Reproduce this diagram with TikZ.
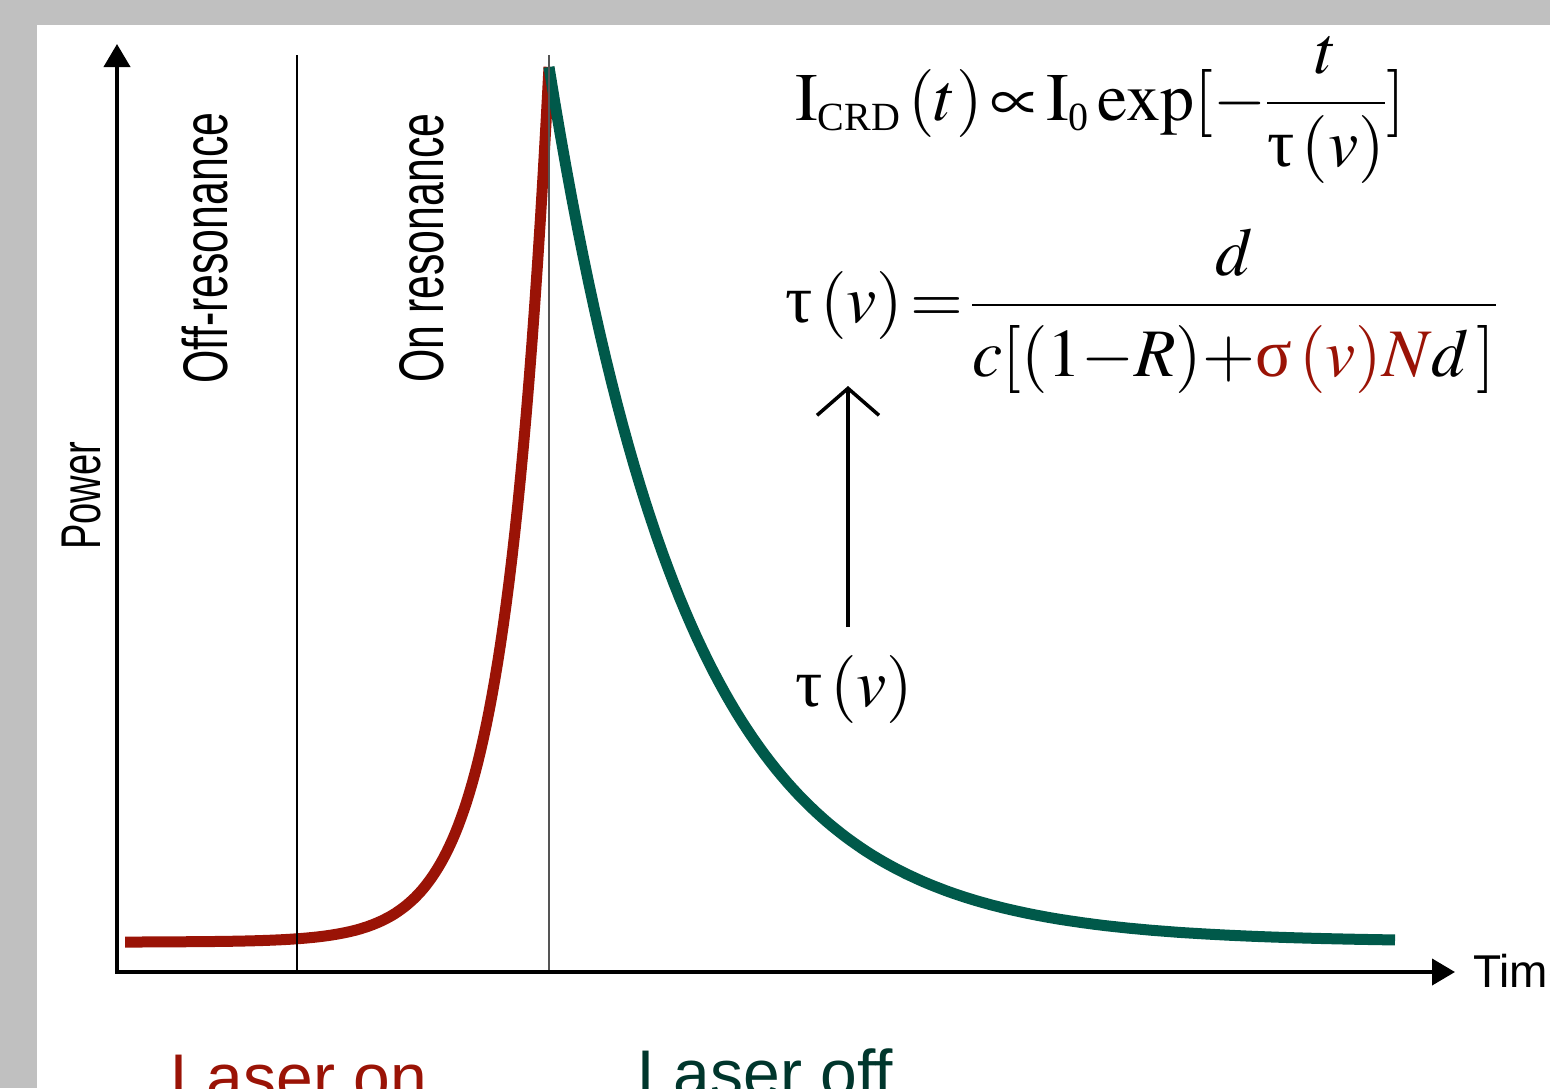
\documentclass[tikz,border=0pt]{standalone}
\usepackage{amsmath}
\usepackage{mathptmx}
\usepackage[no-math]{fontspec}
\setmainfont{Liberation Serif}
\newfontfamily\labelfont{Liberation Sans}
\newfontfamily\narrowfont[FakeStretch=0.68]{Liberation Sans}
\newfontfamily\greekfont{Liberation Serif}
\usetikzlibrary{arrows.meta}
\definecolor{frame-grey}{HTML}{C0C0C0}
\definecolor{laser-red}{HTML}{9A1306}
\definecolor{decay-green}{HTML}{00594A}
\definecolor{off-dark}{HTML}{00362C}
\definecolor{peak-grey}{HTML}{555555}
\newcommand{\gtau}{\mbox{\greekfont τ}}
\newcommand{\gsigma}{\mbox{\greekfont σ}}
\newcommand{\subtxt}[1]{\mbox{\fontsize{40}{40}\selectfont #1}}

\begin{document}
\begin{tikzpicture}[x=1pt, y=-1pt, every node/.style={inner sep=0pt}]
    \useasboundingbox (0,0) rectangle (1550,1088);
    \fill[frame-grey] (0,0) rectangle (1550,1088);
    \fill[white] (37,25) rectangle (1550,1088);
    \clip (0,0) rectangle (1550,1088);
    \coordinate (origin) at (117,972);
    \coordinate (ytip) at (117,44);
    \coordinate (xtip) at (1455,972);
    \coordinate (offtop) at (297,55);
    \coordinate (offbot) at (297,972);
    \coordinate (peaktop) at (549,55);
    \coordinate (peakbot) at (549,972);
    \coordinate (taubot) at (848,627);
    \coordinate (tautip) at (848,386);
    \draw[laser-red, line width=11pt] plot[domain=125:549, samples=150]
      (\x, {942-875*exp((\x-549)/45)});
    \draw[decay-green, line width=11pt] plot[domain=549:1395, samples=150]
      (\x, {942-875*exp(-(\x-549)/140)});
    \draw[line width=2pt] (offtop) -- (offbot);
    \draw[peak-grey, line width=2pt] (peaktop) -- (peakbot);
    \draw[line width=4pt, line join=miter, {Triangle[length=23pt, width=26pt]}-{Triangle[length=23pt, width=26pt]}]
      (ytip) -- (origin) -- (xtip);
    \node[font=\narrowfont\fontsize{56}{60}\selectfont, rotate=90] (powerlab) at (82,496) {Power};
    \node[font=\narrowfont\fontsize{63}{66}\selectfont, rotate=90] (offlab) at (205,248) {Off-resonance};
    \node[font=\narrowfont\fontsize{63}{66}\selectfont, rotate=90] (onlab) at (422,248) {On resonance};
    \node[font=\labelfont\fontsize{46}{50}\selectfont, anchor=base west] (timelab) at (1473,987) {Time};
    \node[font=\labelfont\fontsize{66}{70}\selectfont, anchor=base west, text=laser-red] (onlaser) at (170,1100) {Laser on};
    \node[font=\labelfont\fontsize{66}{70}\selectfont, anchor=base west, text=off-dark] (offlaser) at (637,1096) {Laser off};
    \node[font=\fontsize{68}{80}\selectfont, anchor=base west] (crdeq) at (795,120)
      {$\mathrm{I}_{\subtxt{CRD}}\,(t)\,{\propto}\,\mathrm{I}_{\subtxt{0}}\,\mathrm{exp}[{-}\dfrac{t}{\gtau\,(v)}]$};
    \node[font=\fontsize{68}{80}\selectfont, anchor=base west] (taueq) at (785,322)
      {$\gtau\,(v)\,{=}\,\dfrac{d}{\raisebox{-8pt}{$c[(1{-}R){+}{\color{laser-red}\gsigma\,(v)N}d\,]$}}$};
    \node[font=\fontsize{68}{80}\selectfont, anchor=base west] (taulab) at (795,706) {$\gtau\,(v)$};
    \draw[line width=3.5pt, -{Straight Barb[length=27pt, width=62pt]}] (taubot) -- (tautip);
  \end{tikzpicture}
\end{document}
